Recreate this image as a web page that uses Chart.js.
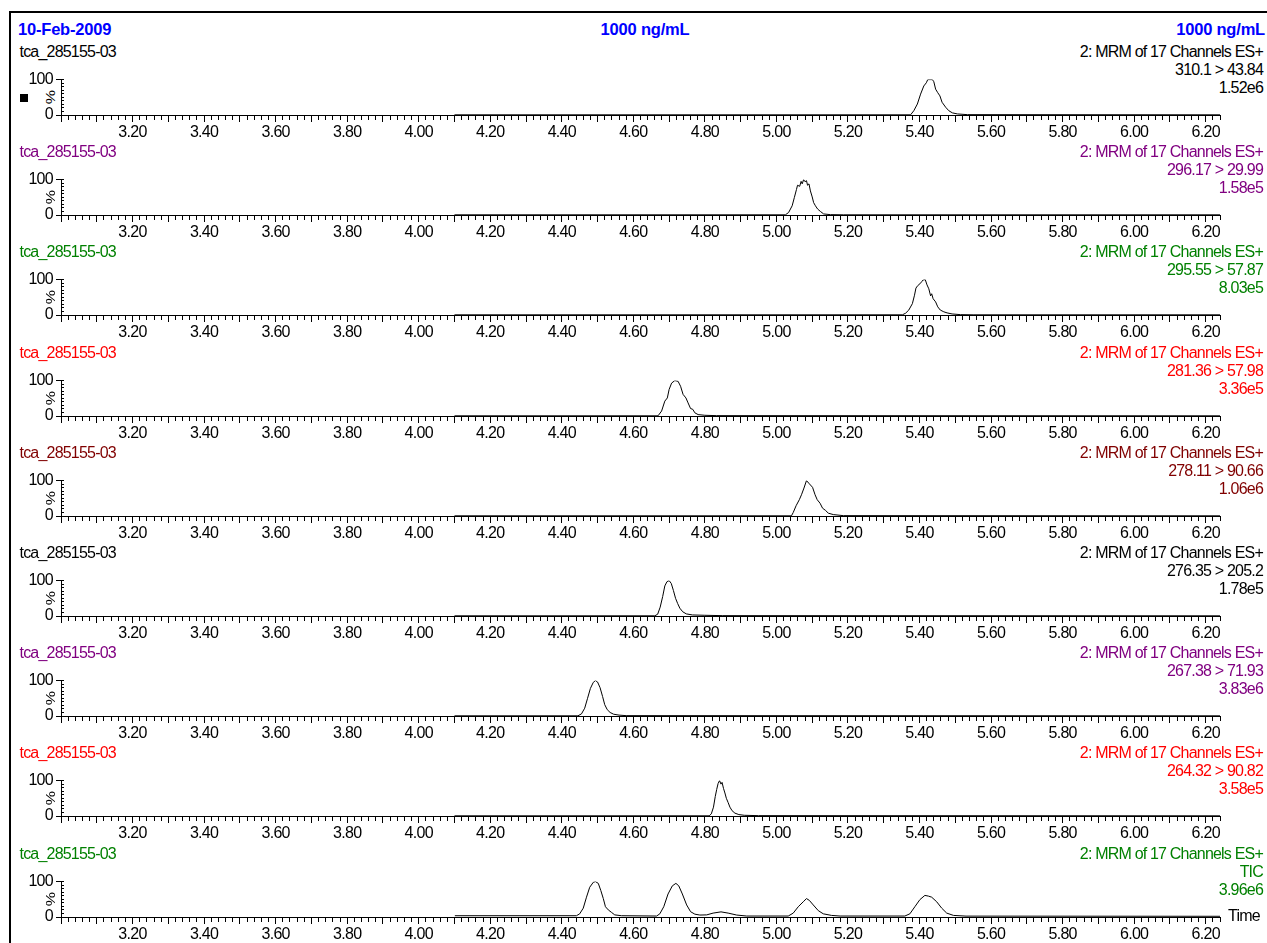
<!DOCTYPE html>
<html>
<head>
<meta charset="utf-8">
<title>tca_285155-03</title>
<script src="https://cdn.jsdelivr.net/npm/chart.js@4.4.1/dist/chart.umd.min.js"></script>
<style>
    html, body { margin: 0; padding: 0; overflow: hidden; background: #fff; }
    body { position: relative; width: 1267px; height: 943px; font-family: "Liberation Sans", Arial, sans-serif; }
    #frame { position: absolute; left: 9px; top: 11px; width: 1400px; height: 1000px; border-left: 2px solid #000; border-top: 2px solid #000; }
    .txt { position: absolute; font-size: 16px; line-height: 18px; letter-spacing: -0.8px; white-space: nowrap; }
    .title { font-weight: bold; color: #0000ff; font-size: 16.5px; letter-spacing: -0.2px; }
    .right { right: 4px; text-align: right; }
    .pct { position: absolute; width: 20px; height: 18px; font-size: 16px; line-height: 18px; text-align: center; transform: rotate(-90deg) scaleY(0.75); }
    .marker { position: absolute; left: 20px; top: 94px; width: 8px; height: 8px; background: #000; }
    canvas { position: absolute; left: 0; }
</style>
</head>
<body>
<div id="frame"></div>
<div class="txt title" style="left:18px; top:20px;">10-Feb-2009</div>
<div class="txt title" style="left:545px; width:200px; text-align:center; top:20px;">1000 ng/mL</div>
<div class="txt title right" style="top:20px; right:2px;">1000 ng/mL</div>
<div class="marker"></div>
<div id="panels"></div>

<script>
// retention time (min) and relative intensity (%)
const times1 = [4.10, 5.375, 5.384, 5.394, 5.403, 5.412, 5.419, 5.423, 5.436, 5.440, 5.445, 5.451, 5.457, 5.463, 5.473, 5.482, 5.492, 5.506, 5.534, 6.24];
const pct1 = [0.5, 0.5, 12, 31, 59, 82, 91, 100, 100, 94, 73, 63, 54, 36, 22, 12, 6, 3, 1, 0.5];

const times2 = [4.10, 5.025, 5.034, 5.044, 5.050, 5.056, 5.059, 5.065, 5.069, 5.072, 5.076, 5.080, 5.084, 5.087, 5.091, 5.095, 5.100, 5.104, 5.109, 5.115, 5.123, 5.132, 5.151, 5.188, 6.24];
const pct2 = [0.5, 0.5, 7, 26, 49, 72, 84, 81, 95, 88, 100, 94, 97, 84, 88, 68, 51, 35, 26, 17, 10, 3, 1, 0.5, 0.5];

const times3 = [4.10, 5.352, 5.361, 5.370, 5.380, 5.386, 5.390, 5.395, 5.401, 5.406, 5.410, 5.416, 5.421, 5.426, 5.431, 5.434, 5.438, 5.445, 5.451, 5.458, 5.468, 5.477, 5.491, 5.515, 5.552, 6.24];
const pct3 = [0.5, 0.5, 5, 14, 32, 56, 76, 83, 88, 94, 99, 100, 85, 74, 54, 60, 46, 37, 23, 14, 9, 6, 3, 1, 0.5, 0.5];

const times4 = [4.10, 4.669, 4.679, 4.688, 4.695, 4.700, 4.707, 4.716, 4.725, 4.732, 4.739, 4.747, 4.753, 4.760, 4.766, 4.772, 4.781, 4.800, 4.833, 6.24];
const pct4 = [0.5, 0.5, 14, 42, 51, 75, 93, 100, 98, 84, 61, 51, 37, 21, 19, 9, 4, 2, 1, 0.5];

const times5 = [4.10, 5.042, 5.047, 5.055, 5.064, 5.070, 5.077, 5.084, 5.092, 5.101, 5.108, 5.114, 5.122, 5.129, 5.137, 5.145, 5.159, 5.187, 6.24];
const pct5 = [0.5, 0.5, 10, 29, 46, 60, 79, 100, 91, 81, 60, 46, 36, 22, 16, 8, 4, 1, 0.5];

const times6 = [4.10, 4.660, 4.668, 4.675, 4.682, 4.688, 4.694, 4.700, 4.706, 4.712, 4.718, 4.724, 4.730, 4.738, 4.748, 4.765, 4.800, 4.850, 6.24];
const pct6 = [0.5, 0.5, 5, 25, 55, 85, 97, 100, 92, 72, 50, 35, 22, 12, 6, 3, 2, 1, 0.5];

const times7 = [4.10, 4.445, 4.455, 4.464, 4.472, 4.480, 4.488, 4.494, 4.500, 4.507, 4.514, 4.520, 4.527, 4.535, 4.545, 4.560, 4.580, 6.24];
const pct7 = [0.5, 0.5, 6, 22, 50, 78, 95, 100, 96, 80, 55, 32, 18, 10, 5, 2.5, 1, 0.5];

const times8 = [4.10, 4.812, 4.818, 4.824, 4.829, 4.833, 4.837, 4.841, 4.845, 4.848, 4.852, 4.856, 4.860, 4.865, 4.870, 4.876, 4.884, 4.895, 4.910, 4.950, 6.24];
const pct8 = [0.5, 0.5, 6, 25, 55, 75, 92, 100, 90, 95, 78, 65, 50, 38, 25, 15, 8, 4, 2, 1, 0.5];

const times9 = [4.101, 4.441, 4.450, 4.460, 4.469, 4.478, 4.488, 4.494, 4.502, 4.509, 4.516, 4.522, 4.530, 4.539, 4.548, 4.567,
    4.665, 4.674, 4.685, 4.697, 4.709, 4.719, 4.727, 4.737, 4.749, 4.760, 4.772, 4.786, 4.805, 4.823, 4.845, 4.865, 4.889, 4.917,
    5.033, 5.047, 5.061, 5.075, 5.084, 5.092, 5.103, 5.117, 5.131, 5.154, 5.178,
    5.359, 5.373, 5.387, 5.401, 5.415, 5.425, 5.434, 5.448, 5.462, 5.476, 5.495, 5.530, 6.24];
const pct9 = [3.6, 3.6, 9, 25, 56, 84, 98, 100, 95, 75, 52, 29, 20, 13, 6, 3.6,
    2.7, 9, 29, 65, 88, 95, 88, 65, 34, 15, 8, 5.5, 6, 11, 14.5, 11, 5.5, 2.7,
    2.7, 11, 29, 43, 52, 47, 34, 18, 9, 4.5, 2.7,
    2.7, 9, 29, 49, 61, 59, 56, 43, 25, 11, 4.5, 2.5, 2];

const sampleName = "tca_285155-03";
const functionName = "2: MRM of 17 Channels ES+";
const transitions = ["310.1 > 43.84", "296.17 > 29.99", "295.55 > 57.87", "281.36 > 57.98", "278.11 > 90.66",
    "276.35 > 205.2", "267.38 > 71.93", "264.32 > 90.82", "TIC"];
const intensities = ["1.52e6", "1.58e5", "8.03e5", "3.36e5", "1.06e6", "1.78e5", "3.83e6", "3.58e5", "3.96e6"];
const timeMin = 3.0;
const timeMax = 6.24;

const traceColors = ["#000000", "#800080", "#008000", "#ff0000", "#800000", "#000000", "#800080", "#ff0000", "#008000"];

document.addEventListener("DOMContentLoaded", () => {
    const holder = document.getElementById("panels");
    const traces = [
        [times1, pct1], [times2, pct2], [times3, pct3], [times4, pct4], [times5, pct5],
        [times6, pct6], [times7, pct7], [times8, pct8], [times9, pct9]
    ];
    const fontFamily = '"Liberation Sans", Arial, sans-serif';
    Chart.defaults.font.family = fontFamily;

    // MassLynx text is narrow, tighten the canvas labels a bit
    const tightText = {
        id: "tightText",
        beforeDraw: (chart) => { chart.ctx.letterSpacing = "-0.7px"; }
    };

    const addText = (text, cls, left, top, color) => {
        const el = document.createElement("div");
        el.className = cls;
        el.textContent = text;
        if (left !== null) el.style.left = left + "px";
        el.style.top = top + "px";
        el.style.color = color;
        holder.appendChild(el);
        return el;
    };

    traces.forEach(([times, pct], k) => {
        const axisY = Math.round(115 + 100.2 * k);
        const color = traceColors[k];

        addText(sampleName, "txt", 19.5, axisY - 72, color);
        addText(functionName, "txt right", null, axisY - 72, color);
        addText(transitions[k], "txt right", null, axisY - 54, color);
        addText(intensities[k], "txt right", null, axisY - 36, color);
        addText("%", "pct", 40.5, axisY - 27, "#000");

        const canvas = document.createElement("canvas");
        canvas.width = 1267;
        canvas.height = 80;
        canvas.style.top = (axisY - 48) + "px";
        holder.appendChild(canvas);

        new Chart(canvas, {
            type: "line",
            data: {
                datasets: [{
                    data: times.map((t, i) => ({ x: t, y: pct[i] })),
                    borderColor: "#000",
                    borderWidth: 1,
                    pointRadius: 0,
                    tension: 0,
                    fill: false,
                    yAxisID: "y"
                }]
            },
            plugins: [tightText],
            options: {
                responsive: false,
                animation: false,
                devicePixelRatio: 1,
                events: [],
                layout: { padding: { top: 12, right: 47, bottom: 0, left: 0 } },
                plugins: { legend: { display: false }, tooltip: { enabled: false } },
                scales: {
                    x: {
                        type: "linear",
                        position: "bottom",
                        min: timeMin,
                        max: timeMax,
                        afterFit: (s) => { s.height = 32; },
                        border: { color: "#000", width: 1 },
                        grid: {
                            drawOnChartArea: false,
                            tickLength: 7,
                            tickColor: "#000",
                            tickWidth: 1,
                            tickBorderDash: (ctx) => {
                                const n = Math.round(ctx.tick.value * 100);
                                return n % 10 === 0 ? [] : [4, 20];
                            }
                        },
                        ticks: {
                            stepSize: 0.02,
                            autoSkip: false,
                            maxRotation: 0,
                            padding: 1,
                            color: "#000",
                            font: { size: 16 },
                            callback: (v) => {
                                const n = Math.round(v * 100);
                                return (n % 20 === 0 && n !== 300) ? (n / 100).toFixed(2) : "";
                            }
                        }
                    },
                    y: {
                        type: "linear",
                        position: "left",
                        min: 0,
                        max: 100,
                        afterFit: (s) => { s.width = 61; },
                        border: { color: "#000", width: 1 },
                        grid: { drawOnChartArea: false, tickLength: 5, tickColor: "#000" },
                        ticks: { stepSize: 100, padding: 3, color: "#000", font: { size: 16 } }
                    },
                    yMinor: {
                        axis: "y",
                        type: "linear",
                        position: { x: timeMin },
                        min: 0,
                        max: 100,
                        border: { display: false },
                        grid: { drawOnChartArea: false, tickLength: -3, tickColor: "#000" },
                        ticks: { stepSize: 10, display: false }
                    }
                }
            }
        });
    });

    // axis name under the last trace
    addText("Time", "txt", 1228, Math.round(115 + 100.2 * 8) - 10, "#000");
});
</script>
</body>
</html>
